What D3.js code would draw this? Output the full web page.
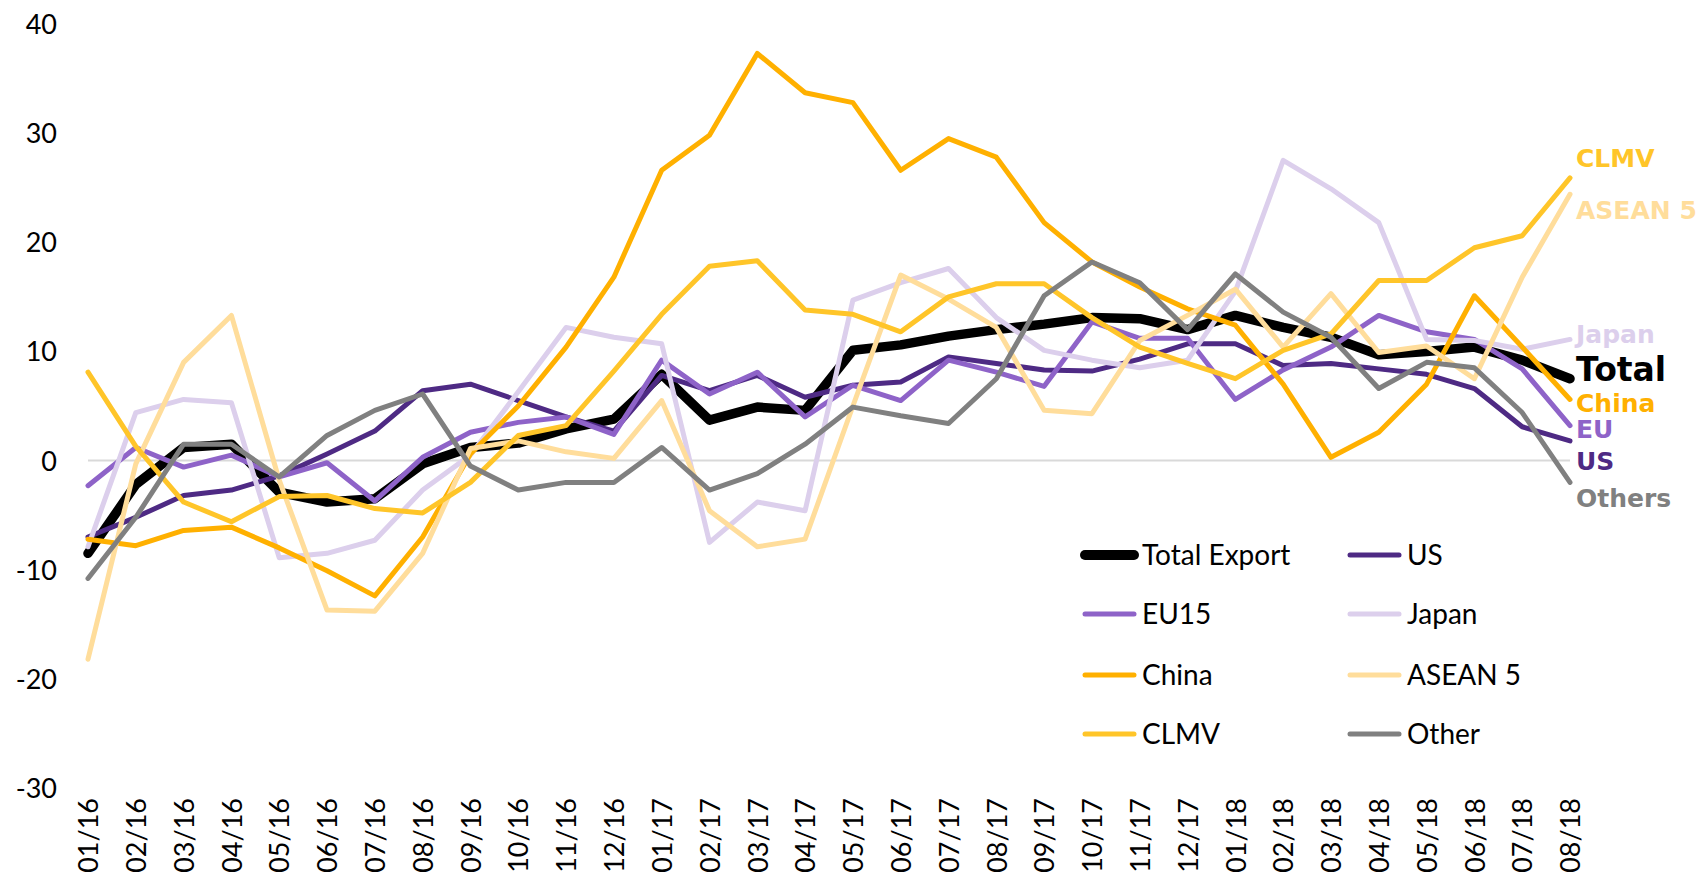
<!DOCTYPE html>
<html>
<head>
<meta charset="utf-8">
<script src="https://cdn.jsdelivr.net/npm/d3@7"></script>
<style>
  html, body { margin: 0; padding: 0; background: #ffffff; }
  svg { display: block; }
</style>
</head>
<body>
<svg id="chart" width="1698" height="883"></svg>
<script>
// ---------------- data ----------------
const months = ["01/16","02/16","03/16","04/16","05/16","06/16","07/16","08/16","09/16","10/16","11/16","12/16",
                "01/17","02/17","03/17","04/17","05/17","06/17","07/17","08/17","09/17","10/17","11/17","12/17",
                "01/18","02/18","03/18","04/18","05/18","06/18","07/18","08/18"];

const totalExport = [-8.5,-2.2,1.2,1.5,-2.9,-3.8,-3.5,-0.3,1.2,1.6,2.9,3.8,7.9,3.7,4.9,4.6,10.1,10.6,11.4,12.0,12.5,13.1,13.0,12.0,13.3,12.2,11.3,9.7,10.0,10.4,9.2,7.5];
const us          = [-7.0,-5.2,-3.2,-2.7,-1.4,0.6,2.7,6.4,7.0,5.5,4.0,2.7,7.8,6.4,7.8,5.8,6.9,7.2,9.5,8.9,8.3,8.2,9.3,10.7,10.7,8.7,8.9,8.4,7.9,6.6,3.1,1.8];
const eu15        = [-2.3,1.2,-0.6,0.5,-1.5,-0.2,-3.7,0.3,2.6,3.5,4.0,2.4,9.2,6.1,8.1,4.0,6.9,5.5,9.2,8.1,6.8,12.7,11.2,11.2,5.6,8.3,10.4,13.3,11.8,11.1,8.4,3.2];
const japan       = [-7.9,4.4,5.6,5.3,-8.9,-8.5,-7.3,-2.7,0.5,6.3,12.2,11.3,10.7,-7.5,-3.8,-4.6,14.7,16.3,17.6,13.1,10.1,9.2,8.5,9.2,15.5,27.5,24.9,21.8,11.1,11.0,10.2,11.1];
const china       = [-7.2,-7.8,-6.4,-6.1,-8.0,-10.1,-12.4,-7.0,0.6,5.0,10.4,16.8,26.6,29.8,37.3,33.7,32.8,26.6,29.5,27.8,21.8,18.2,15.9,13.9,12.4,7.0,0.3,2.6,7.0,15.1,10.4,5.6];
const asean5      = [-18.2,-0.3,9.0,13.3,-1.8,-13.7,-13.8,-8.5,1.1,1.8,0.8,0.2,5.5,-4.6,-7.9,-7.2,5.0,17.0,14.8,12.2,4.6,4.3,11.0,13.3,15.7,10.4,15.3,9.9,10.5,7.5,16.8,24.4];
const clmv        = [8.1,1.3,-3.8,-5.6,-3.3,-3.2,-4.4,-4.8,-2.0,2.3,3.2,8.2,13.4,17.8,18.3,13.8,13.4,11.8,15.0,16.2,16.2,13.1,10.4,8.9,7.5,10.1,11.6,16.5,16.5,19.5,20.6,25.9];
const other       = [-10.8,-5.2,1.5,1.5,-1.5,2.3,4.6,6.1,-0.5,-2.7,-2.0,-2.0,1.2,-2.7,-1.2,1.5,4.9,4.1,3.4,7.5,15.1,18.2,16.3,12.0,17.1,13.6,11.3,6.6,9.0,8.5,4.4,-2.0];

const seriesNames  = ["Total Export","US","EU15","Japan","China","ASEAN 5","CLMV","Other"];
const seriesValues = [totalExport, us, eu15, japan, china, asean5, clmv, other];
const yTicks = [-30,-20,-10,0,10,20,30,40];

// end-of-line annotation labels (text, y position in data units)
const endLabels    = ["CLMV","ASEAN 5","Japan","Total","China","EU","US","Others"];
const endLabelVals = [27.7, 23.0, 11.6, 8.4, 5.3, 2.9, 0.0, -3.4];
const endLabelSeries = ["CLMV","ASEAN 5","Japan","Total Export","China","EU15","US","Other"];

// ---------------- styles ----------------
const colors = {
  "Total Export": "#000000",
  "US": "#4E2A84",
  "EU15": "#8E63C8",
  "Japan": "#DCCFEC",
  "China": "#FFB000",
  "ASEAN 5": "#FFDD9B",
  "CLMV": "#FFC529",
  "Other": "#808080"
};
const widths = { "Total Export": 9.5 };
const defaultWidth = 5;

// ---------------- chart ----------------
const svg = d3.select("#chart");

const x = d3.scalePoint().domain(months).range([88, 1570]);
const y = d3.scaleLinear().domain([-30, 40]).range([788, 24]);

// y axis
const yAxis = svg.append("g")
  .attr("transform", "translate(60,0)")
  .call(d3.axisLeft(y).tickValues(yTicks).tickSize(0).tickPadding(3).tickFormat(d => String(d)));
yAxis.select(".domain").remove();
yAxis.selectAll("text")
  .attr("font-family", "Lato, 'Open Sans', sans-serif")
  .attr("font-size", 27)
  .attr("fill", "#000")
  .attr("dy", "0.35em");

// x axis (labels at bottom, rotated)
const xAxis = svg.append("g")
  .attr("transform", "translate(0,788)")
  .call(d3.axisBottom(x).tickSize(0));
xAxis.select(".domain").remove();
xAxis.selectAll("text")
  .attr("font-family", "Lato, 'Open Sans', sans-serif")
  .attr("font-size", 27)
  .attr("fill", "#000")
  .attr("transform", "rotate(-90)")
  .attr("text-anchor", "end")
  .attr("x", -10)
  .attr("y", 0)
  .attr("dy", "0.36em");

// zero line
svg.append("line")
  .attr("x1", x(months[0]))
  .attr("x2", x(months[months.length - 1]))
  .attr("y1", y(0))
  .attr("y2", y(0))
  .attr("stroke", "#D9D9D9")
  .attr("stroke-width", 2);

// lines
const line = d3.line()
  .x((d, i) => x(months[i]))
  .y(d => y(d));

seriesNames.forEach((name, k) => {
  svg.append("path")
    .datum(seriesValues[k])
    .attr("fill", "none")
    .attr("stroke", colors[name])
    .attr("stroke-width", widths[name] || defaultWidth)
    .attr("stroke-linejoin", "round")
    .attr("stroke-linecap", "round")
    .attr("d", line);
});

// end labels
const lastX = x(months[months.length - 1]);
endLabels.forEach((txt, k) => {
  const isTotal = txt === "Total";
  const fs = isTotal ? 33 : 25;
  svg.append("text")
    .attr("x", lastX + 6)
    .attr("y", y(endLabelVals[k]))
    .attr("dy", "0.36em")
    .attr("font-family", "'DejaVu Sans', Verdana, sans-serif")
    .attr("font-weight", "bold")
    .attr("font-size", fs)
    .attr("fill", colors[endLabelSeries[k]])
    .text(txt);
});

// legend
const legendRowsY = [555, 614, 675, 734];
const legendColX = [1085, 1350];
seriesNames.forEach((name, k) => {
  const row = Math.floor(k / 2), col = k % 2;
  const g = svg.append("g").attr("transform", `translate(${legendColX[col]},${legendRowsY[row]})`);
  g.append("line")
    .attr("x1", 0).attr("x2", 49)
    .attr("y1", 0).attr("y2", 0)
    .attr("stroke", colors[name])
    .attr("stroke-width", name === "Total Export" ? 10 : 5)
    .attr("stroke-linecap", "round");
  g.append("text")
    .attr("x", 57)
    .attr("y", 0)
    .attr("dy", "0.36em")
    .attr("font-family", "Lato, 'Open Sans', sans-serif")
    .attr("font-size", 28)
    .attr("fill", "#000")
    .text(name);
});
</script>
</body>
</html>
